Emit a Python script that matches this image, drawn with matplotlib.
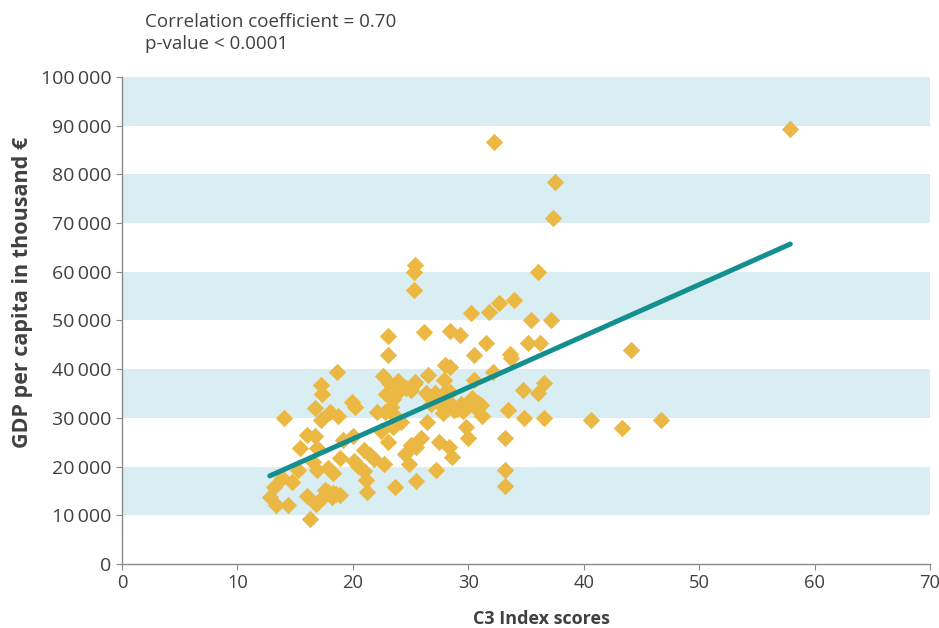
import matplotlib
matplotlib.use('Agg')
import matplotlib.pyplot as plt

plt.rcParams['font.family'] = ['Open Sans', 'DejaVu Sans']

# C3 Index scores and GDP per capita
c3_scores = [12.8, 13.2, 13.3, 14.0, 13.9, 14.4, 14.7, 15.4, 15.2, 16.0,
             16.0, 16.3, 16.5, 16.7, 16.7, 16.8, 16.9, 16.9, 17.2, 17.3,
             17.2, 17.3, 17.6, 17.8, 17.8, 18.0, 18.2, 18.3, 18.3, 18.5,
             18.6, 18.7, 18.9, 18.9, 19.1, 19.9, 20.0, 20.2, 20.1, 20.4,
             21.0, 21.0, 21.1, 21.2, 21.5, 21.8, 22.1, 22.4, 22.6, 22.7,
             22.8, 22.9, 23.0, 23.0, 23.0, 23.1, 23.3, 23.5, 23.5, 23.65,
             23.7, 23.9, 23.8, 24.1, 24.2, 24.5, 24.6, 24.9, 25.0, 25.0,
             25.3, 25.3, 25.3, 25.4, 25.5, 25.4, 25.5, 25.9, 26.2, 26.3,
             26.4, 26.5, 26.8, 26.8, 27.1, 27.2, 27.5, 27.6, 27.8, 27.9,
             28.0, 28.0, 28.2, 28.3, 28.4, 28.4, 28.4, 28.6, 28.8, 29.0,
             29.3, 29.4, 29.5, 29.8, 30.0, 30.1, 30.2, 30.3, 30.5, 30.5,
             30.7, 30.8, 31.1, 31.2, 31.5, 31.8, 32.1, 32.2, 32.7, 33.2,
             33.2, 33.2, 33.4, 33.6, 33.7, 34.0, 34.7, 34.8, 35.2, 35.4,
             36.0, 36.2, 36.0, 36.6, 36.6, 37.2, 37.3, 37.5, 40.6, 43.3,
             44.1, 46.7, 57.9]
gdp = [13800, 15800, 12100, 30000, 17700, 12100, 16800, 23800, 19300, 26500,
       14000, 9200, 20900, 32000, 26300, 12300, 19300, 23800, 36800, 34900,
       29600, 13600, 15200, 14800, 19700, 31200, 13800, 18700, 14600, 14400,
       39400, 30400, 21800, 14200, 25500, 33300, 26300, 32200, 21100, 20100,
       19100, 23400, 17200, 14800, 22400, 21600, 31200, 27300, 38600, 20500,
       31200, 34900, 46800, 42900, 25000, 37200, 32200, 28100, 33900, 15800,
       30200, 37600, 36300, 35700, 29200, 22600, 36100, 20500, 24400, 35700,
       37000, 56300, 60000, 61400, 17000, 37400, 24000, 25900, 47600, 35100,
       29200, 38800, 34100, 32900, 35100, 19300, 25100, 32600, 31000, 37800,
       40900, 35300, 33500, 24000, 35300, 47800, 40500, 22000, 31600, 31800,
       47000, 32900, 31400, 28100, 25900, 33300, 51500, 34100, 37800, 42900,
       32000, 33100, 32600, 30400, 45400, 51700, 39400, 86600, 53600, 25900,
       19300, 16000, 31600, 43100, 42300, 54200, 35700, 30000, 45400, 50100,
       60000, 45400, 35100, 37200, 30000, 50100, 71000, 78400, 29600, 27900,
       43900, 29600, 89300]

# linear trend end points
trend_x = [12.8, 57.9]
trend_y = [18100, 65700]

band_starts = [10000, 30000, 50000, 70000, 90000]
y_ticks = list(range(0, 100001, 10000))
x_ticks = list(range(0, 71, 10))

grey = '#404040'
fig = plt.figure(figsize=(9.39, 6.28), dpi=100)
ax = fig.add_axes([0.13, 0.1019, 0.8604, 0.7755])

for b in band_starts:
    ax.axhspan(b, b + 10000, color='#D9EEF2', lw=0, zorder=0)

ax.scatter(c3_scores, gdp, marker='D', s=78, color='#EBB843', lw=0, zorder=2)
ax.plot(trend_x, trend_y, color='#138F90', lw=3.6, solid_capstyle='round', zorder=3)

ax.set_xlim(0, 70)
ax.set_ylim(0, 100000)
ax.set_xticks(x_ticks)
ax.set_yticks(y_ticks)
ax.set_yticklabels(['0' if v == 0 else f'{v:,}'.replace(',', '\u2009') for v in y_ticks])

for s in ['top', 'right']:
    ax.spines[s].set_visible(False)
for s in ['left', 'bottom']:
    ax.spines[s].set_color('#8a8a8a')
    ax.spines[s].set_linewidth(1.0)
ax.tick_params(axis='both', colors='#8a8a8a', labelcolor=grey, labelsize=14, length=4)
ax.tick_params(axis='x', labelsize=13.2)

ax.set_xlabel('C3 Index scores', fontsize=13, fontweight='bold', color=grey)
ax.xaxis.set_label_coords(0.5186, -0.095)
ax.set_ylabel('GDP per capita in thousand €', fontsize=15.5, fontweight='bold', color=grey)
ax.yaxis.set_label_coords(-0.11, 0.558)

fig.text(145 / 939, 1 - 33 / 628, 'Correlation coefficient = 0.70\np-value < 0.0001',
         fontsize=13.5, color=grey, va='center', ha='left', linespacing=1.3)

fig.savefig('out.png', dpi=100)
